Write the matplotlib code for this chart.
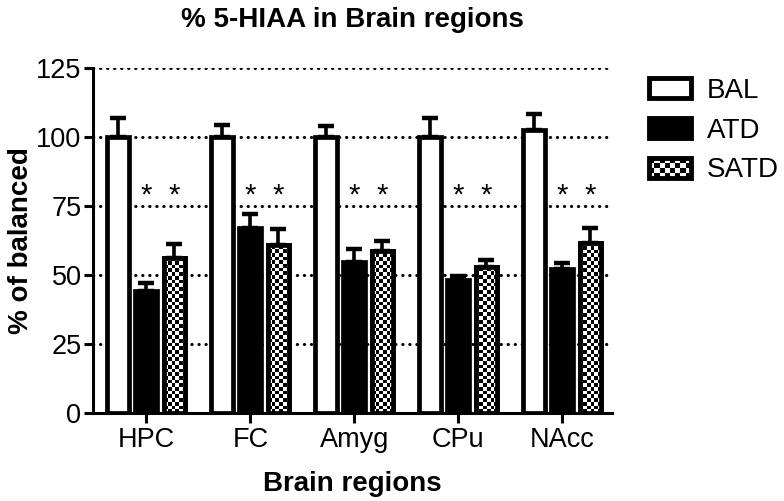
import numpy as np
import matplotlib
matplotlib.use('Agg')
import matplotlib.pyplot as plt
from matplotlib.patches import Rectangle
from matplotlib.legend_handler import HandlerBase

plt.rcParams['font.family'] = ['Liberation Sans', 'DejaVu Sans']

regions = ['HPC', 'FC', 'Amyg', 'CPu', 'NAcc']
groups = ['BAL', 'ATD', 'SATD']
bal_mean = [100, 100, 100, 100, 102.5]
bal_err = [7, 4.3, 4, 7, 6]
atd_mean = [44.2, 67, 54.7, 48, 52]
atd_err = [3, 5, 4.7, 1.5, 2.3]
satd_mean = [56.2, 61, 58.7, 53, 61.6]
satd_err = [5, 5.7, 3.6, 2.6, 5.3]
star_y = 76

x = np.arange(len(regions))
w = 0.21
off = 0.27

fig = plt.figure(figsize=(7.84, 5.01), dpi=100)
ax = fig.add_axes([0.119, 0.176, 0.662, 0.688])
xlim = (-0.51, 4.48)
ylim = (0, 125)

# dotted grid lines behind the bars
for yv in [25, 50, 75, 100, 125]:
    ax.axhline(yv, color='black', lw=2.2, linestyle=(0, (0.1, 2.2)),
               dash_capstyle='round', zorder=0)

# error bars (upper only)
ekw = dict(fmt='none', ecolor='black', elinewidth=2.6, capsize=6, capthick=3.2, zorder=1)
ax.errorbar(x - off, bal_mean, yerr=[np.zeros(5), bal_err], **ekw)
ax.errorbar(x, atd_mean, yerr=[np.zeros(5), atd_err], **ekw)
ax.errorbar(x + off, satd_mean, yerr=[np.zeros(5), satd_err], **ekw)

ax.bar(x - off, bal_mean, w, color='white', edgecolor='black', lw=3.4, zorder=2)
ax.bar(x, atd_mean, w, color='black', edgecolor='black', lw=3.4, zorder=2)
satd_bars = ax.bar(x + off, satd_mean, w, color='white', edgecolor='black', lw=3.4, zorder=2)

# checkerboard fill for SATD
nx, ny = 140, 93
checker = (np.indices((ny, nx)).sum(axis=0) % 2).astype(float)
for b in satd_bars:
    im = ax.imshow(checker, cmap='gray', extent=(*xlim, *ylim), aspect='auto',
                   interpolation='nearest', zorder=2.5)
    im.set_clip_path(b)
ax.bar(x + off, satd_mean, w, color='none', edgecolor='black', lw=3.4, zorder=3)

# significance asterisks
for xi in x:
    ax.text(xi, star_y, '*', ha='center', va='baseline', fontsize=21)
    ax.text(xi + off, star_y, '*', ha='center', va='baseline', fontsize=21)

ax.set_xlim(*xlim)
ax.set_ylim(*ylim)
ax.set_xticks(x)
ax.set_xticklabels(regions)
ax.set_yticks([0, 25, 50, 75, 100, 125])
ax.tick_params(axis='y', labelsize=19.5, width=2.2, length=6.5, pad=2)
ax.tick_params(axis='x', labelsize=19.5, width=2.2, length=7, pad=3.5)
for s in ['top', 'right']:
    ax.spines[s].set_visible(False)
for s in ['left', 'bottom']:
    ax.spines[s].set_linewidth(2.2)

ax.set_xlabel('Brain regions', fontsize=20, fontweight='bold')
ax.xaxis.set_label_coords(0.5, -0.17)
ax.set_ylabel('% of balanced', fontsize=20, fontweight='bold')
ax.yaxis.set_label_coords(-0.115, 0.5)
fig.text(352 / 784, 1 - 27 / 501, '% 5-HIAA in Brain regions', ha='center', va='baseline',
         fontsize=20, fontweight='bold')


class HandlerChecker(HandlerBase):
    def create_artists(self, legend, orig_handle, xdescent, ydescent, width, height,
                       fontsize, trans):
        x0, y0 = -xdescent, -ydescent
        arts = [Rectangle((x0, y0), width, height, facecolor='black', lw=0, transform=trans)]
        cx, cy = 8, 4
        dw, dh = width / cx, height / cy
        for i in range(cx):
            for j in range(cy):
                if (i + j) % 2 == 0:
                    arts.append(Rectangle((x0 + i * dw, y0 + j * dh), dw, dh,
                                          facecolor='white', lw=0, transform=trans))
        arts.append(Rectangle((x0, y0), width, height, facecolor='none',
                              edgecolor='black', lw=3.5, transform=trans))
        return arts


h_bal = Rectangle((0, 0), 1, 1, facecolor='white', edgecolor='black', lw=3.5)
h_atd = Rectangle((0, 0), 1, 1, facecolor='black', edgecolor='black', lw=3.5)
h_satd = Rectangle((0, 0), 1, 1)
fig.legend([h_bal, h_atd, h_satd], groups, loc='upper left', bbox_to_anchor=(0.828, 0.845),
           frameon=False, fontsize=20, handlelength=1.5, handleheight=0.72,
           labelspacing=0.5, handletextpad=0.58, borderpad=0, borderaxespad=0,
           handler_map={h_satd: HandlerChecker()})

fig.savefig('out.png', dpi=100)
